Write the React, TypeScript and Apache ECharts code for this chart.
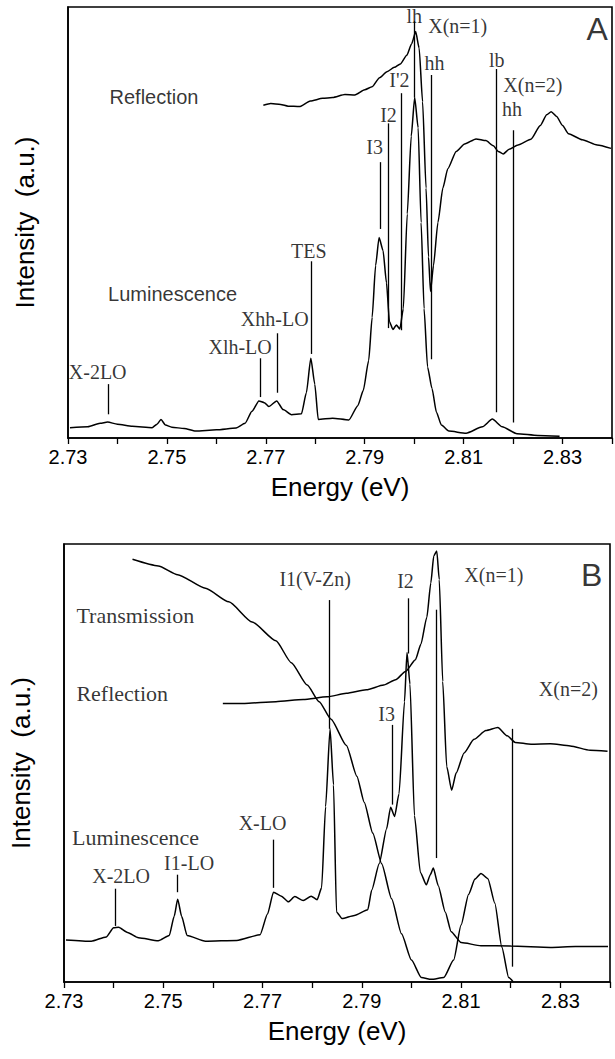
import { useEffect, useRef } from "react";
import * as echarts from "echarts";

type Pt = [number, number];
type Marker = [number, number, number]; // energy, lower end, upper end
type Tag = [string, number, number]; // text, energy, height

const energyMin = 2.73;
const energyMax = 2.84;
const energyStep = 0.01;

// ---------- Panel A ----------
const luminescenceA: Pt[] = [
  [2.7304, 2.4], [2.734, 2.6], [2.7365, 3.4], [2.738, 3.7], [2.74, 3.2], [2.743, 2.7],
  [2.747, 2.4], [2.748, 3.2], [2.7488, 4.3], [2.7497, 3.0], [2.751, 2.5], [2.7535, 2.2],
  [2.7558, 1.6], [2.76, 1.9], [2.764, 2.3], [2.7658, 3.4], [2.7672, 6.2], [2.7686, 8.6],
  [2.7697, 8.2], [2.7706, 7.3], [2.7722, 8.6], [2.7735, 6.6], [2.7752, 5.4], [2.7772, 5.6],
  [2.7782, 10.5], [2.7791, 18.5], [2.7799, 12.5], [2.7806, 4.3], [2.7835, 4.6], [2.7868, 4.2],
  [2.7886, 7.5], [2.7897, 11], [2.7908, 18], [2.7915, 28], [2.7922, 40], [2.7929, 46.5],
  [2.7937, 43.5], [2.7944, 36], [2.795, 27], [2.7957, 25.2], [2.7964, 26.2], [2.7971, 25.3],
  [2.7978, 30], [2.7986, 52], [2.7994, 70], [2.8001, 79], [2.8008, 72], [2.8014, 50],
  [2.802, 30], [2.8027, 16.5], [2.8036, 11.5], [2.8045, 6], [2.8055, 3], [2.807, 1.6],
  [2.8105, 1.1], [2.8138, 2.6], [2.8158, 4.4], [2.8178, 2.6], [2.8208, 1.0], [2.825, 0.6],
  [2.8294, 0.4],
];

const reflectionA: Pt[] = [
  [2.7695, 77.2], [2.771, 77.6], [2.773, 77.4], [2.7745, 77.0], [2.7768, 76.9], [2.779, 78.2],
  [2.7815, 78.8], [2.7835, 79.0], [2.786, 79.7], [2.788, 79.6], [2.79, 80.8], [2.7915, 81.5],
  [2.793, 83.6], [2.7945, 85.0], [2.796, 86.0], [2.7972, 86.8], [2.7985, 88.8], [2.7995, 91.5],
  [2.8003, 94.3], [2.801, 90.5], [2.8017, 78], [2.8024, 58], [2.8029, 42], [2.8033, 34],
  [2.8039, 40], [2.8048, 50], [2.8058, 58], [2.8068, 62.5], [2.8085, 66.5], [2.8102, 68.2],
  [2.8125, 69.4], [2.8145, 69.0], [2.816, 67.8], [2.817, 66.5], [2.818, 65.9], [2.8192, 67.0],
  [2.821, 68.0], [2.8236, 69.3], [2.8255, 72.5], [2.8268, 75.0], [2.8277, 75.7], [2.8288, 74.6],
  [2.83, 72.5], [2.8312, 70.6], [2.834, 69.2], [2.837, 68.0], [2.8398, 67.2],
];

const peakLinesA: Marker[] = [
  [2.7381, 5.5, 12.5], [2.7688, 9.5, 18.5], [2.7724, 10.5, 24.3], [2.7792, 19.5, 41],
  [2.7931, 48.5, 64], [2.7947, 25.5, 73], [2.7974, 25, 80], [2.8001, 79, 96.7],
  [2.8035, 18.3, 84.2], [2.8166, 6, 85.6], [2.82, 3.6, 71.4],
];

const peakTagsA: Tag[] = [
  ["X-2LO", 2.736, 15.4], ["Xlh-LO", 2.7648, 21], ["Xhh-LO", 2.7718, 27.7], ["TES", 2.7787, 43.5],
  ["I3", 2.792, 67.5], ["I2", 2.7948, 75], ["I'2", 2.797, 83], ["lh", 2.8, 98],
  ["X(n=1)", 2.8088, 95.5], ["hh", 2.8041, 87], ["lb", 2.8167, 87.8], ["X(n=2)", 2.824, 81.8],
  ["hh", 2.8198, 76.3],
];

const curveTagsA: Tag[] = [
  ["Reflection", 2.7383, 79.2],
  ["Luminescence", 2.738, 33.4],
];

// ---------- Panel B ----------
const luminescenceB: Pt[] = [
  [2.7304, 9.6], [2.7355, 9.3], [2.7385, 10.3], [2.74, 12.4], [2.741, 12.5], [2.7428, 11.3],
  [2.745, 10.1], [2.749, 9.4], [2.7512, 10.6], [2.7522, 15], [2.7529, 18.9], [2.7537, 15],
  [2.7548, 10.6], [2.7585, 9.3], [2.7648, 9.5], [2.7695, 10.8], [2.771, 15.5], [2.7722, 20.5],
  [2.7738, 19.6], [2.7752, 18.3], [2.7765, 19.5], [2.7782, 18.6], [2.7798, 19.6], [2.781, 18.8],
  [2.7819, 21.5], [2.7827, 40], [2.7836, 57.8], [2.7843, 45], [2.7849, 16], [2.786, 14.5],
  [2.7885, 15.2], [2.7912, 16.5], [2.792, 21], [2.7935, 27], [2.795, 35], [2.7958, 39.9],
  [2.7966, 37.8], [2.7975, 43], [2.7986, 64], [2.7991, 75.2], [2.7997, 68], [2.8006, 38],
  [2.8018, 25], [2.803, 22.2], [2.8038, 24.5], [2.8044, 26], [2.8054, 22], [2.8068, 16],
  [2.808, 11.5], [2.81, 9.0], [2.814, 8.3], [2.82, 8.2], [2.828, 7.9], [2.833, 8.1],
  [2.8396, 8.1],
];

const transmissionB: Pt[] = [
  [2.7438, 96.5], [2.749, 95], [2.7529, 93], [2.7585, 89.9], [2.7632, 86.8], [2.7679, 82.2],
  [2.7727, 77.9], [2.7758, 72.9], [2.779, 67.8], [2.7814, 64], [2.7838, 60], [2.7869, 54],
  [2.789, 47], [2.7905, 41], [2.7922, 34], [2.794, 27], [2.796, 19], [2.798, 11], [2.8, 5],
  [2.802, 1], [2.804, 0.6], [2.8065, 1], [2.8085, 5], [2.81, 13], [2.8115, 20], [2.8128, 23.5],
  [2.814, 24.8], [2.8154, 23.6], [2.8168, 18], [2.8182, 8], [2.8196, 1], [2.8205, 0],
];

const reflectionB: Pt[] = [
  [2.762, 63.6], [2.7664, 63.6], [2.7727, 64], [2.7782, 64.5], [2.783, 65.1], [2.7869, 65.9],
  [2.7909, 66.7], [2.7944, 67.8], [2.7968, 69], [2.7988, 70.9], [2.8008, 73.6], [2.8019, 77.1],
  [2.8031, 83.3], [2.8039, 91.1], [2.8045, 97.3], [2.8051, 98.4], [2.8056, 91.9], [2.8063, 68.6],
  [2.8071, 49.2], [2.8081, 43.8], [2.809, 47.7], [2.8106, 52.3], [2.8126, 55.4], [2.815, 57.4],
  [2.8174, 58.1], [2.8193, 56.2], [2.8209, 54.7], [2.8241, 54.3], [2.828, 54.4], [2.832, 53.9],
  [2.836, 52.9], [2.8395, 52.7],
];

const peakLinesB: Marker[] = [
  [2.7403, 12.8, 21.3], [2.7529, 20.5, 24.5], [2.7722, 21.5, 32.5], [2.7835, 57.8, 87.2],
  [2.7962, 40.5, 58.7], [2.7993, 75, 87.6], [2.8049, 28.3, 85], [2.8203, 3.5, 57.8],
];

const peakTagsB: Tag[] = [
  ["X-2LO", 2.7415, 24.3], ["I1-LO", 2.7552, 27.2], ["X-LO", 2.77, 36.4], ["I1(V-Zn)", 2.7806, 91.9],
  ["I2", 2.7988, 91.5], ["I3", 2.795, 61.2], ["X(n=1)", 2.8166, 93], ["X(n=2)", 2.8316, 67],
];

const curveTagsB: Tag[] = [
  ["Transmission", 2.7324, 83.7],
  ["Reflection", 2.7324, 65.9],
  ["Luminescence", 2.7315, 32.9],
];

const panelLetters: Tag[] = [
  ["A", 2.837, 95],
  ["B", 2.8363, 93],
];

const SANS = '"Liberation Sans", Arial, Helvetica, sans-serif';
const SERIF = '"Liberation Serif", "Times New Roman", Times, serif';
const INK = "#000";

function energyAxis(gridIndex: number) {
  return {
    type: "value",
    gridIndex,
    min: energyMin,
    max: energyMax,
    interval: energyStep,
    name: "Energy (eV)",
    nameLocation: "middle",
    nameGap: 36,
    nameTextStyle: { fontFamily: SANS, fontSize: 26, color: INK },
    axisLine: { show: true, onZero: false, lineStyle: { color: INK, width: 1.6 } },
    axisTick: { show: true, inside: false, length: 6, lineStyle: { color: INK, width: 1.3 } },
    axisLabel: {
      show: true,
      margin: 9,
      color: INK,
      fontFamily: SANS,
      fontSize: 20,
      showMinLabel: true,
      formatter: (v: number) => (Math.round(v * 100) % 2 === 1 ? v.toFixed(2) : ""),
    },
    splitLine: { show: false },
  };
}

function intensityAxis(gridIndex: number) {
  return {
    type: "value",
    gridIndex,
    min: 0,
    max: 100,
    name: "Intensity  (a.u.)",
    nameLocation: "middle",
    nameGap: 30,
    nameTextStyle: { fontFamily: SANS, fontSize: 26, color: INK },
    axisLine: { show: true, lineStyle: { color: INK, width: 1.6 } },
    axisTick: { show: false },
    axisLabel: { show: false },
    splitLine: { show: false },
  };
}

function curve(idx: number, data: Pt[]) {
  return {
    type: "line",
    xAxisIndex: idx,
    yAxisIndex: idx,
    data,
    symbol: "none",
    showSymbol: false,
    smooth: 0.2,
    smoothMonotone: "x",
    silent: true,
    lineStyle: { color: INK, width: 1.5 },
    z: 3,
  };
}

function tags(idx: number, list: Tag[], font: string, size: number, leftAligned: boolean, lines?: Marker[]) {
  const s: any = {
    type: "scatter",
    xAxisIndex: idx,
    yAxisIndex: idx,
    symbolSize: 1,
    silent: true,
    itemStyle: { color: "rgba(0,0,0,0)" },
    data: list.map(([t, x, y]) => ({ value: [x, y], name: t })),
    label: {
      show: true,
      position: leftAligned ? "right" : "inside",
      distance: 0,
      formatter: "{b}",
      fontFamily: font,
      fontSize: size,
      color: INK,
    },
    z: 4,
  };
  if (lines) {
    s.markLine = {
      silent: true,
      symbol: ["none", "none"],
      label: { show: false },
      lineStyle: { color: INK, width: 1.3, type: "solid" },
      data: lines.map(([x, y0, y1]) => [{ coord: [x, y0] }, { coord: [x, y1] }]),
    };
  }
  return s;
}

export default function App() {
  const ref = useRef<HTMLDivElement>(null);

  useEffect(() => {
    if (!ref.current) return;
    const chart = echarts.init(ref.current, undefined, { renderer: "svg" });
    chart.setOption({
      animation: false,
      backgroundColor: "#fff",
      grid: [
        { left: 68, right: 2, top: 7, height: 431, show: true, borderColor: INK, borderWidth: 1.6 },
        { left: 64, right: 5, top: 544, height: 438, show: true, borderColor: INK, borderWidth: 1.6 },
      ],
      xAxis: [energyAxis(0), energyAxis(1)],
      yAxis: [intensityAxis(0), intensityAxis(1)],
      series: [
        curve(0, luminescenceA),
        curve(0, reflectionA),
        tags(0, peakTagsA, SERIF, 20, false, peakLinesA),
        tags(0, curveTagsA, SANS, 20, true),
        tags(0, [panelLetters[0]], SANS, 32, false),
        curve(1, luminescenceB),
        curve(1, transmissionB),
        curve(1, reflectionB),
        tags(1, peakTagsB, SERIF, 20, false, peakLinesB),
        tags(1, curveTagsB, SERIF, 22, true),
        tags(1, [panelLetters[1]], SANS, 32, false),
      ],
    });
    return () => chart.dispose();
  }, []);

  return (
    <div
      ref={ref}
      style={{ position: "absolute", left: 0, top: 0, width: 615, height: 1059, background: "#fff" }}
    />
  );
}
